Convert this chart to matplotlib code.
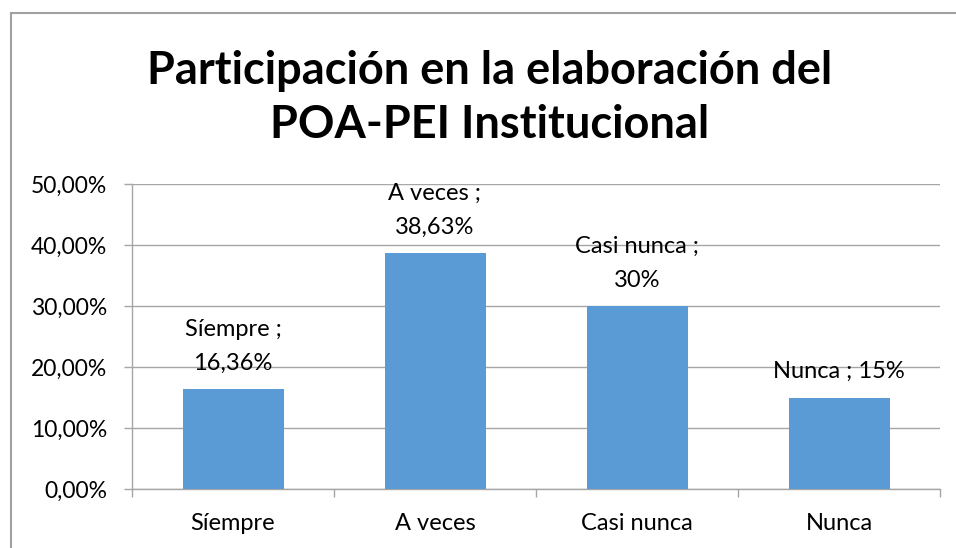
import numpy as np
import matplotlib.pyplot as plt
from matplotlib.patches import Rectangle

# DATA

categorias = ["Síempre", "A veces", "Casi nunca", "Nunca"]
valores = [16.36, 38.63, 30.0, 15.0]
etiquetas = ["Síempre ;\n16,36%", "A veces ;\n38,63%", "Casi nunca ;\n30%", "Nunca ; 15%"]
yticks = [0, 10, 20, 30, 40, 50]
ytick_labels = ["0,00%", "10,00%", "20,00%", "30,00%", "40,00%", "50,00%"]

# STYLE

plt.rcParams['font.family'] = ['Lato', 'DejaVu Sans']
bar_color = '#5B9BD5'
grid_color = '#A6A6A6'

fig = plt.figure(figsize=(9.56, 5.48), dpi=100)
ax = fig.add_axes([132 / 956, 1 - 489 / 548, 808 / 956, 305 / 548])

x = np.arange(len(categorias))
bars = ax.bar(x, valores, width=0.5, color=bar_color, zorder=3)

ax.set_xlim(-0.5, len(categorias) - 0.5)
ax.set_ylim(0, 50)

ax.set_yticks(yticks)
ax.set_yticklabels(ytick_labels, fontsize=16.5)
ax.set_xticks(x)
ax.set_xticklabels(categorias, fontsize=17)
ax.set_xticks(np.arange(len(categorias) + 1) - 0.5, minor=True)

ax.tick_params(axis='x', which='major', length=0, pad=17)
ax.tick_params(axis='x', which='minor', length=6, color=grid_color, width=1)
ax.tick_params(axis='y', length=6, color=grid_color, width=1, pad=12)

ax.grid(axis='y', color=grid_color, linewidth=1, zorder=0)
for s in ['top', 'right']:
    ax.spines[s].set_visible(False)
for s in ['left', 'bottom']:
    ax.spines[s].set_color(grid_color)
    ax.spines[s].set_linewidth(1)

# DATA LABELS
for xi, v, lab in zip(x, valores, etiquetas):
    ax.annotate(lab, (xi, v), xytext=(0, 11), textcoords='offset points',
                ha='center', va='bottom', fontsize=17, linespacing=1.75)

# TITLE
fig.text(490 / 956, 1 - 98 / 548, "Participación en la elaboración del\nPOA-PEI Institucional",
         ha='center', va='center', fontsize=32.5, fontweight='bold', linespacing=1.38)

# CHART BORDER
fig.patches.append(Rectangle((11 / 956, -0.1), 1.1, 1 - 13 / 548 + 0.1,
                             transform=fig.transFigure, fill=False,
                             edgecolor='#A0A0A0', linewidth=1.5))

fig.savefig('out.png', dpi=100)
